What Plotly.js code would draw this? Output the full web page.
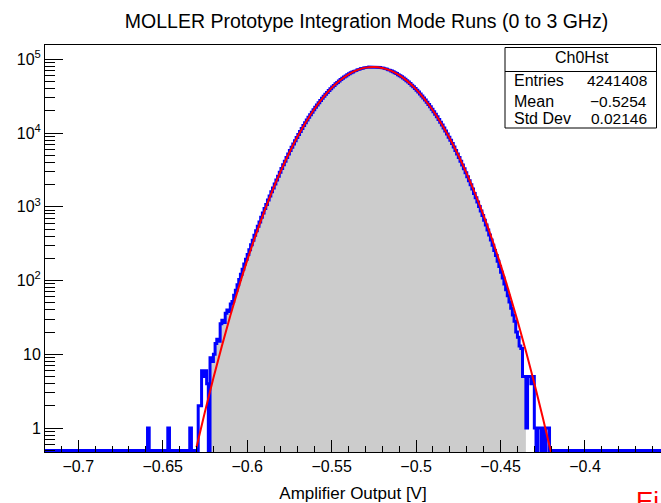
<!DOCTYPE html>
<html><head><meta charset="utf-8">
<script src="https://cdn.plot.ly/plotly-3.0.1.min.js"></script>
<style>html,body{margin:0;padding:0;background:#fff;overflow:hidden}</style>
</head><body><div id="chart" style="width:661px;height:503px"></div>
<script>
const chartTitle = 'MOLLER Prototype Integration Mode Runs (0 to 3 GHz)';
const xAxisTitle = 'Amplifier Output [V]';
const binStart = -0.659;
const binWidth = 0.001;
const counts = [
1,0,0,0,0,0,0,0,0,0,0,0,1,0,0,0,0,0,0,0,0,0,0,0,0,
1,0,0,0,0,2,2,6,5,6,4,0,9,8,10,14,16,15,26,29,27,36,40,38,48,52,
63,74,88,103,122,142,168,194,226,262,305,352,410,474,544,624,721,825,948,1078,
1235,1398,1594,1800,2030,2300,2590,2930,3300,3710,4160,4650,5190,5780,6420,7120,7880,8700,9570,
10520,11540,12650,13800,15020,16360,17720,19200,20720,22330,24010,25790,27600,29530,31470,33520,
35580,37690,39800,42000,44150,46480,48620,50950,53070,55360,57400,59590,61580,63600,65470,67320,
69000,70640,72100,73490,74660,75780,76670,77480,78050,78520,78770,78900,78820,78610,78150,77620,
76850,75990,74900,73750,72380,70950,69330,67660,65830,63980,61970,59980,57830,55730,53520,51340,
49070,46890,44610,42450,40220,38100,35940,33900,31840,29910,27960,26160,24340,22680,21000,19490,
17970,16610,15240,14030,12810,11700,10680,9700,8800,7970,7200,6480,5820,5210,4660,4150,3700,3280,
2900,2560,2260,1990,1740,1520,1330,1160,1010,875,760,655,565,485,415,355,302,256,218,183,155,130,
108,90,75,62,51,42,34,28,20,17,13,12,5,5,1,5,5,4,5,1,0,1,1,0,1,0,1,1,0
];
const fitX = [-0.630,-0.625,-0.620,-0.615,-0.610,-0.605,-0.600,-0.595,-0.590,-0.585,-0.580,-0.575,-0.570,-0.565,-0.560,-0.555,-0.550,-0.545,-0.540,-0.535,-0.530,-0.525,-0.520,-0.515,-0.510,-0.505,-0.500,-0.495,-0.490,-0.485,-0.480,-0.475,-0.470,-0.465,-0.460,-0.455,-0.450,-0.445,-0.440,-0.435,-0.430,-0.425,-0.420];
const fitY = [0.547,1.66,4.76,12.9,33.3,81.3,187.5,410,849,1667,3097,5458,9100,14390,21530,30480,40930,52000,62570,71390,77090,78880,76430,70150,60980,50210,39160,28920,20230,13410,8414,5000,2818,1503,758,363,164.4,70.6,28.7,11.1,4.04,1.39,0.456];
const xTickVals = [-0.7,-0.65,-0.6,-0.55,-0.5,-0.45,-0.4];
const xTickText = ['\u22120.7','\u22120.65','\u22120.6','\u22120.55','\u22120.5','\u22120.45','\u22120.4'];
const yTickVals = [1,10,100,1000,10000,100000];
const yTickText = ['1','10','10<sup>2</sup>','10<sup>3</sup>','10<sup>4</sup>','10<sup>5</sup>'];
const statsName = 'Ch0Hst';
const statsLabels = ['Entries','Mean','Std Dev'];
const statsValues = ['4241408','\u22120.5254','0.02146'];
const cornerText = 'Ei';

const W = 661, H = 503, L = 45, R = 0, T = 45, B = 51;
const pw = W - L - R, ph = H - T - B;
const px = p => (p - L) / pw;
const py = p => (H - B - p) / ph;
const yLogRange = [-0.325, 5.194];
const xRange = [-0.7197, -0.355];
const zeroLevel = Math.pow(10, yLogRange[0] + 0.02);
const fillBase = 1e-3;

// outline
const ox = [xRange[0], binStart], oy = [zeroLevel, zeroLevel];
counts.forEach((c, i) => {
  const l = binStart + i * binWidth, r = l + binWidth;
  const v = c > 0 ? c : zeroLevel;
  ox.push(l, r); oy.push(v, v);
});
const endEdge = binStart + counts.length * binWidth;
ox.push(endEdge, xRange[1]); oy.push(zeroLevel, zeroLevel);

// fill: contiguous run around the peak with content > 1
let peak = 0;
counts.forEach((c, i) => { if (c > counts[peak]) peak = i; });
let a = peak, b = peak;
while (a > 0 && counts[a - 1] > 1) a--;
while (b < counts.length - 1 && counts[b + 1] > 1) b++;
const fx = [binStart + a * binWidth], fy = [fillBase];
for (let i = a; i <= b; i++) {
  const l = binStart + i * binWidth, r = l + binWidth;
  fx.push(l, r); fy.push(counts[i], counts[i]);
}
fx.push(binStart + (b + 1) * binWidth); fy.push(fillBase);

const minorY = [];
for (let e = -1; e <= 5; e++) for (let d = 2; d <= 9; d++) minorY.push(d * Math.pow(10, e));

const traces = [
  {x: fx, y: fy, type: 'scatter', mode: 'lines', fill: 'toself', fillcolor: '#cccccc',
   line: {width: 0, color: 'rgba(0,0,0,0)'}, hoverinfo: 'skip', showlegend: false},
  {x: ox, y: oy, type: 'scatter', mode: 'lines', line: {color: '#0000ff', width: 3}, showlegend: false},
  {x: fitX, y: fitY, type: 'scatter', mode: 'lines', line: {color: '#ff0000', width: 2, shape: 'spline'}, showlegend: false}
];

const font = {family: '"Liberation Sans", Arial, sans-serif', color: '#000'};
const layout = {
  width: W, height: H,
  margin: {l: L, r: R, t: T, b: B, pad: 0},
  paper_bgcolor: '#fff', plot_bgcolor: '#fff',
  font: font,
  title: {text: chartTitle, x: 366.5 / W, xref: 'container', xanchor: 'center',
          y: 1 - 21 / H, yref: 'container', yanchor: 'middle', font: Object.assign({}, font, {size: 19.5})},
  xaxis: {range: xRange, tickmode: 'array', tickvals: xTickVals, ticktext: xTickText,
          ticks: 'inside', ticklen: 12, tickwidth: 1, tickcolor: '#000',
          showline: true, linecolor: '#000', linewidth: 1, mirror: true,
          showgrid: false, zeroline: false,
          tickfont: Object.assign({}, font, {size: 16}),
          minor: {tickmode: 'linear', tick0: -0.7, dtick: 0.01, ticks: 'inside', ticklen: 6, tickwidth: 1, tickcolor: '#000', showgrid: false},
          title: {text: xAxisTitle, standoff: 12, font: Object.assign({}, font, {size: 17})},
          automargin: false},
  yaxis: {type: 'log', range: yLogRange, tickmode: 'array', tickvals: yTickVals, ticktext: yTickText,
          ticks: 'inside', ticklen: 18, tickwidth: 1, tickcolor: '#000',
          showline: true, linecolor: '#000', linewidth: 1, mirror: true,
          showgrid: false, zeroline: false,
          tickfont: Object.assign({}, font, {size: 16}),
          minor: {tickmode: 'array', tickvals: minorY, ticks: 'inside', ticklen: 10, tickwidth: 1, tickcolor: '#000', showgrid: false},
          automargin: false},
  shapes: [
    {type: 'rect', xref: 'paper', yref: 'paper', x0: px(505), x1: px(656.5), y0: py(128), y1: py(47.5),
     line: {color: '#000', width: 1}, fillcolor: '#fff', layer: 'above'},
    {type: 'line', xref: 'paper', yref: 'paper', x0: px(505), x1: px(656.5), y0: py(71.5), y1: py(71.5),
     line: {color: '#000', width: 1}, layer: 'above'}
  ],
  annotations: []
};
layout.annotations.push({text: statsName, xref: 'paper', yref: 'paper', x: px(581.5), y: py(57), xanchor: 'center', yanchor: 'middle', showarrow: false, font: Object.assign({}, font, {size: 16})});
const rowY = [80.5, 101, 118.5];
statsLabels.forEach((t, i) => {
  layout.annotations.push({text: t, xref: 'paper', yref: 'paper', x: px(512), y: py(rowY[i]), xanchor: 'left', yanchor: 'middle', showarrow: false, font: Object.assign({}, font, {size: 16})});
  layout.annotations.push({text: statsValues[i], xref: 'paper', yref: 'paper', x: px(649), y: py(rowY[i]), xanchor: 'right', yanchor: 'middle', showarrow: false, font: Object.assign({}, font, {size: 15.5})});
});
layout.annotations.push({text: cornerText, xref: 'paper', yref: 'paper', x: px(634), y: py(484), xanchor: 'left', yanchor: 'top', showarrow: false, font: Object.assign({}, font, {size: 26, color: '#ff0000'})});

Plotly.newPlot('chart', traces, layout, {staticPlot: true, displayModeBar: false});
</script>
</body></html>
